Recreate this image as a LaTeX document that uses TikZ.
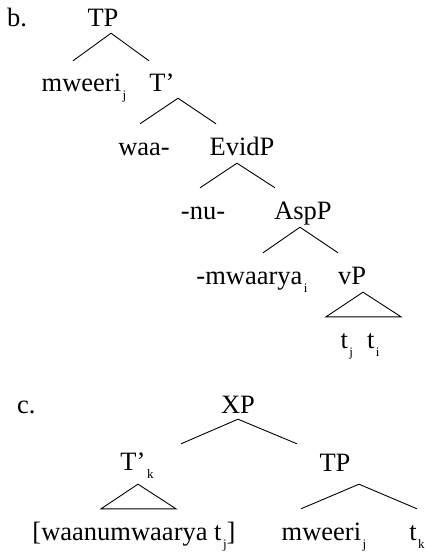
\documentclass[tikz,border=0pt]{standalone}
\usepackage{fontspec}
\setmainfont{Liberation Serif}
\usepackage{tikz}
\usetikzlibrary{calc}
\newcommand{\lsub}[1]{\kern1.5pt\raisebox{-8pt}{\fontsize{13}{13}\selectfont #1}}

\begin{document}
\begin{tikzpicture}[x=1pt, y=1pt,
        lab/.style={inner sep=0pt, anchor=base, text height=18pt, text depth=0pt,
                    font=\fontsize{26.5}{30}\selectfont},
        branch/.style={line width=0.9pt, black}
    ]
    \useasboundingbox (0,0) rectangle (427,-554);

    \node[lab, anchor=base west] (exb) at (7,-27) {b.};
    \node[lab] (TP) at (103,-27) {TP};
    \node[lab] (mw) at (84,-91) {mweeri\lsub{j}};
    \node[lab] (Tb) at (162,-91) {T’};
    \node[lab] (waa) at (144,-155) {waa-};
    \node[lab] (evid) at (242,-155) {EvidP};
    \node[lab] (nu) at (203,-219) {-nu-};
    \node[lab] (asp) at (303,-219) {AspP};
    \node[lab] (mwa) at (252,-284) {-mwaarya\lsub{i}};
    \node[lab] (vP) at (352,-284) {vP};
    \node[lab] (trc) at (360,-348) {t\lsub{j}\hspace{14pt}t\lsub{i}};

    \draw[branch] ($(TP.south)+(8,-6)$) -- ($(mw.north)+(-11,12)$);
    \draw[branch] ($(TP.south)+(8,-6)$) -- ($(Tb.north)+(-13,12)$);
    \draw[branch] ($(Tb.south)+(16,-7)$) -- ($(waa.north)+(-4,13)$);
    \draw[branch] ($(Tb.south)+(16,-7)$) -- ($(evid.north)+(-26,13)$);
    \draw[branch] ($(evid.south)+(-5,-8)$) -- ($(nu.north)+(-3,13)$);
    \draw[branch] ($(evid.south)+(-5,-8)$) -- ($(asp.north)+(-28,13)$);
    \draw[branch] ($(asp.south)+(-3,-8)$) -- ($(mwa.north)+(11,13)$);
    \draw[branch] ($(asp.south)+(-3,-8)$) -- ($(vP.north)+(-14,13)$);
    \draw[branch] ($(vP.south)+(11,-8)$) -- ($(trc.north)+(-34,13)$)
        -- ($(trc.north)+(41,13)$) -- cycle;

    \node[lab, anchor=base west] (exc) at (17,-413) {c.};
    \node[lab] (XP) at (238,-413) {XP};
    \node[lab] (Tk) at (137,-470) {T’\lsub{k}};
    \node[lab] (TPc) at (335,-471) {TP};
    \node[lab] (wm) at (134,-540) {[waanumwaarya t\lsub{j}]};
    \node[lab] (mwc) at (324,-540) {mweeri\lsub{j}};
    \node[lab] (tk) at (417,-540) {t\lsub{k}};

    \draw[branch] ($(XP.south)+(0,-6)$) -- ($(Tk.north)+(44,8)$);
    \draw[branch] ($(XP.south)+(0,-6)$) -- ($(TPc.north)+(-38,9)$);
    \draw[branch] ($(Tk.south)+(1,-14)$) -- ($(wm.north)+(-33,13)$)
        -- ($(wm.north)+(42,13)$) -- cycle;
    \draw[branch] ($(TPc.south)+(24,-13)$) -- ($(mwc.north)+(-23,13)$);
    \draw[branch] ($(TPc.south)+(24,-13)$) -- ($(tk.north)+(0,13)$);
\end{tikzpicture}
\end{document}
